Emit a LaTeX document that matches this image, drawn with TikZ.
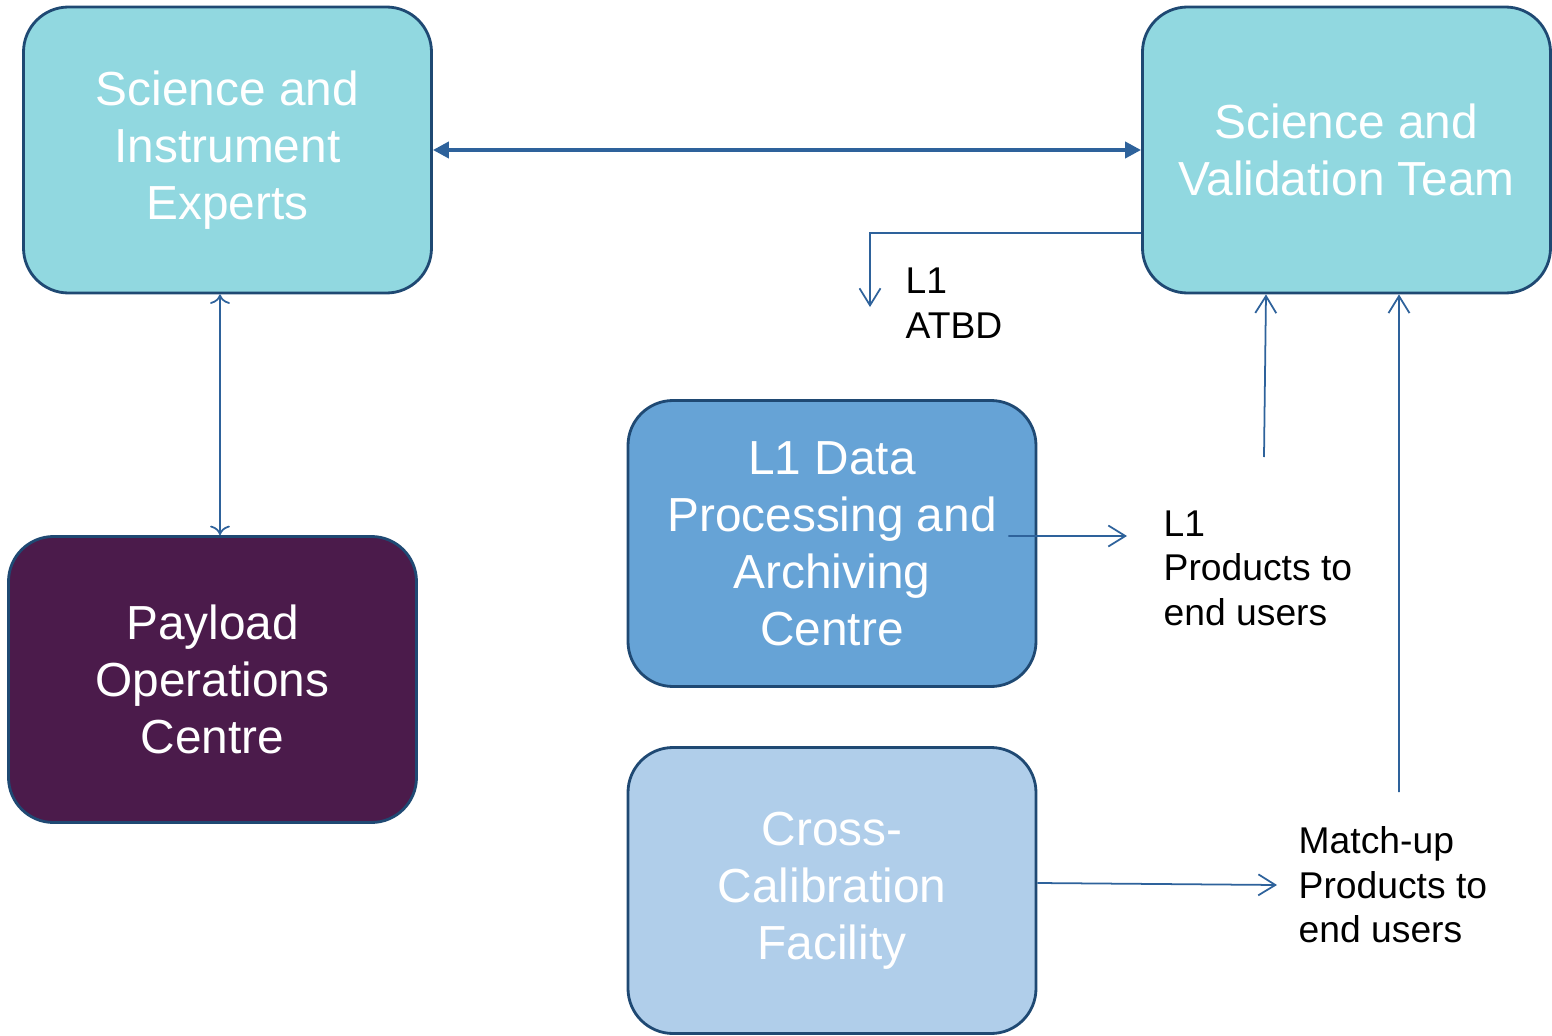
\documentclass[tikz,border=0pt]{standalone}
\usepackage{fontspec}
\setmainfont{Liberation Sans}
\usetikzlibrary{arrows.meta,positioning}
\definecolor{teambox}{RGB}{145,216,224}
\definecolor{pocbox}{RGB}{75,27,75}
\definecolor{procbox}{RGB}{102,163,214}
\definecolor{calbox}{RGB}{176,206,234}
\definecolor{edgeline}{RGB}{31,73,115}
\definecolor{flowline}{RGB}{46,98,155}
\tikzset{
  unit/.style={draw=edgeline,line width=0.8pt,rounded corners=4.5mm,
    minimum width=4.08cm,minimum height=2.86cm,align=center,text=white,
    font=\fontsize{13.6}{16.2}\selectfont},
  flow/.style={draw=flowline,line width=0.5pt,-{Straight Barb[length=1.7mm,width=2.1mm]}},
  link/.style={draw=flowline,line width=1.1pt,{Triangle[length=1.6mm,width=1.6mm]}-{Triangle[length=1.6mm,width=1.6mm]}},
  note/.style={inner sep=0pt,align=left,anchor=west,font=\fontsize{10.6}{12.7}\selectfont}
}
\begin{document}
\begin{tikzpicture}
  \useasboundingbox (0,0) rectangle (15.52,10.35);

  \node [unit,fill=teambox] (experts) at (2.275,8.85) {Science and\\Instrument\\Experts};
  \node [unit,fill=teambox] (team) at (13.465,8.85) {Science and\\Validation Team};
  \node [unit,fill=pocbox] (poc) at (2.125,3.555) {Payload\\Operations\\Centre};
  \node [unit,fill=procbox] (dpac) at (8.32,4.915) {L1 Data\\Processing and\\Archiving\\Centre};
  \node [unit,fill=calbox] (ccf) at (8.32,1.445) {Cross-\\Calibration\\Facility};

  \node [note] (atbd) at (9.05,7.32) {L1\\ATBD};
  \node [note] (l1prod) at (11.63,4.67) {L1\\Products to\\end users};
  \node [note] (mprod) at (12.98,1.50) {Match-up\\Products to\\end users};

  \coordinate (atbd end) at (8.70,7.28);
  \coordinate (l1 end) at (11.27,4.99);
  \coordinate (l1 up) at (12.64,5.78);
  \coordinate (m up) at (13.99,2.43);
  \coordinate (m end) at (12.77,1.50);

  \draw [link] (experts) -- (team);
  \draw [flow,<->] ([xshift=-0.75mm]experts.south) -- ([xshift=0.75mm]poc.north);
  \draw [flow] ([yshift=-8.3mm]team.west) -| (atbd end);
  \draw [flow] ([xshift=-2.9mm,yshift=0.75mm]dpac.east) -- (l1 end);
  \draw [flow] (l1 up) -- ([xshift=-8.05mm]team.south);
  \draw [flow] (m up) -- ([xshift=5.25mm]team.south);
  \draw [flow] ([yshift=0.75mm]ccf.east) -- (m end);
\end{tikzpicture}
\end{document}
